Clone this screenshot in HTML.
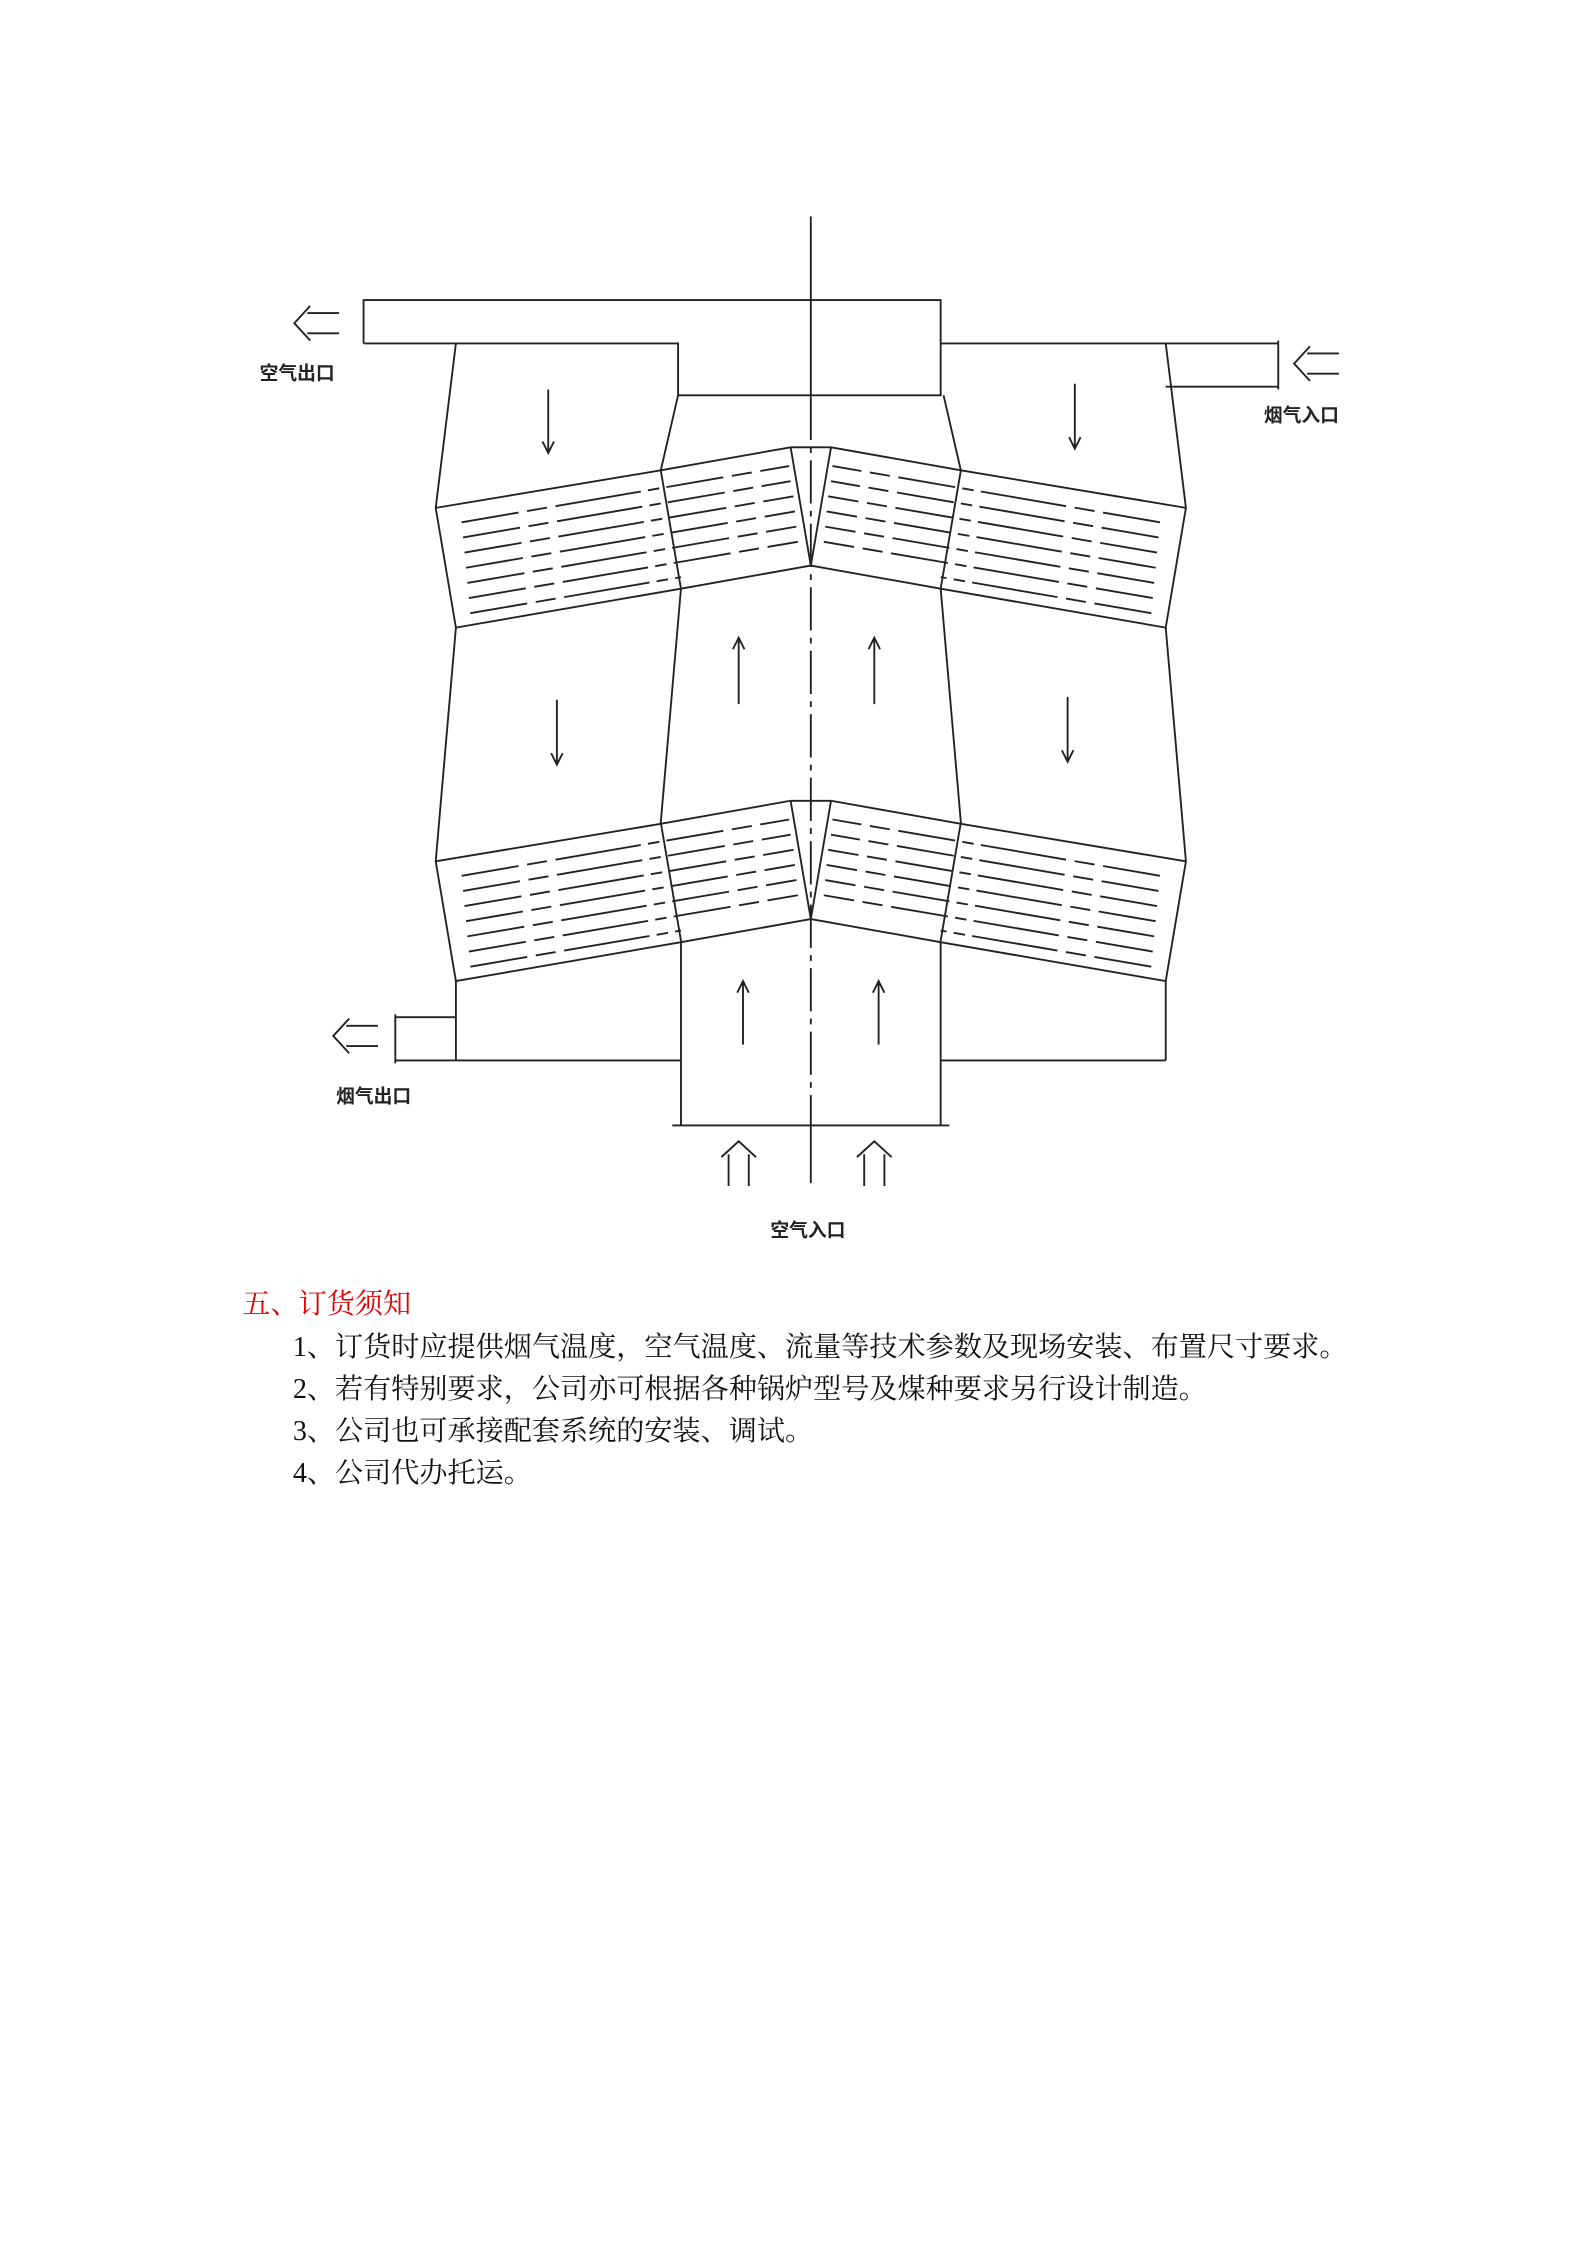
<!DOCTYPE html>
<html><head><meta charset="utf-8"><style>
html,body{margin:0;padding:0;background:#fff;}
svg{display:block;}
</style></head><body>
<svg width="1587" height="2245" viewBox="0 0 1100 1556" preserveAspectRatio="none" xmlns="http://www.w3.org/2000/svg">
<defs>
<g id="bank">
  <polyline points="302,352 458,326 548,310" fill="none" stroke="#222" stroke-width="1.3"/>
  <polyline points="316,435 472,408 562,392" fill="none" stroke="#222" stroke-width="1.3"/>
  <line x1="548" y1="310" x2="562" y2="392" stroke="#222" stroke-width="1.3"/>
  <g stroke="#222" stroke-width="1.3" stroke-dasharray="40 6 14 6 60 5 8 5">
    <line x1="320" y1="362" x2="547" y2="323"/>
    <line x1="321" y1="372.5" x2="548" y2="333.5"/>
    <line x1="322" y1="383" x2="550" y2="344"/>
    <line x1="323" y1="393.5" x2="551" y2="354.5"/>
    <line x1="324" y1="404" x2="552" y2="365"/>
    <line x1="325" y1="414.5" x2="553" y2="375.5"/>
    <line x1="326" y1="425" x2="472" y2="400"/>
  </g>
</g>
<g id="half">
  <use href="#bank"/>
  <use href="#bank" transform="translate(0,245)"/>
  <polyline points="316,238 302,352 316,435 302,597 316,680 316,735" fill="none" stroke="#222" stroke-width="1.3"/>
  <polyline points="470,274 458,326 472,408 458,570 472,652 472,780" fill="none" stroke="#222" stroke-width="1.3"/>
</g>
</defs>
<rect width="1100" height="1556" fill="#fff"/>
<use href="#half"/>
<use href="#half" transform="translate(1124,0) scale(-1,1)"/>
<g fill="none" stroke="#222" stroke-width="1.3">
  <line x1="548" y1="310" x2="576" y2="310"/>
  <line x1="548" y1="555" x2="576" y2="555"/>
  <polyline points="252,238 252,208 652,208 652,274 470,274 470,238 252,238"/>
  <polyline points="652,238 886,238"/>
  <polyline points="808,268 886,268"/>
  <line x1="886" y1="236" x2="886" y2="270"/>
  <line x1="316" y1="735" x2="472" y2="735"/>
  <line x1="652" y1="735" x2="808" y2="735"/>
  <line x1="466" y1="780" x2="658" y2="780"/>
  <polyline points="316,705 274,705"/>
  <line x1="274" y1="703" x2="274" y2="737"/>
  <line x1="274" y1="735" x2="316" y2="735"/>
  <line x1="562" y1="150" x2="562" y2="275"/>
  <line x1="562" y1="275" x2="562" y2="780" stroke-dasharray="30 5 4 5"/>
  <line x1="562" y1="780" x2="562" y2="820"/>
  <path d="M380,270 V314 M376,306 L380,314 L384,306"/>
  <path d="M745,266 V311 M741,303 L745,311 L749,303"/>
  <path d="M386,485 V530 M382,522 L386,530 L390,522"/>
  <path d="M740,483 V528 M736,520 L740,528 L744,520"/>
  <path d="M512,488 V442 M508,450 L512,442 L516,450"/>
  <path d="M606,488 V442 M602,450 L606,442 L610,450"/>
  <path d="M515,724 V680 M511,688 L515,680 L519,688"/>
  <path d="M609,724 V680 M605,688 L609,680 L613,688"/>
  <path d="M235,217 H213 M235,231 H213 M215,212 L204,224 L215,236"/>
  <path d="M928,245 H906 M928,259 H906 M908,240 L897,252 L908,264"/>
  <path d="M262,711 H240 M262,725 H240 M242,706 L231,718 L242,730"/>
  <path d="M505,822 V800 M519,822 V800 M500,802 L512,791 L524,802"/>
  <path d="M599,822 V800 M613,822 V800 M594,802 L606,791 L618,802"/>
</g>
<g font-family="'Liberation Sans','Noto Sans CJK SC',sans-serif" font-size="13" font-weight="bold" fill="#222">
  <text x="180" y="263">空气出口</text>
  <text x="876" y="292">烟气入口</text>
  <text x="233" y="764">烟气出口</text>
  <text x="534" y="857">空气入口</text>
</g>
<g font-family="'Liberation Serif','Noto Serif CJK SC',serif" font-size="19.5">
  <text x="168" y="910" fill="#e00000">五、订货须知</text>
  <g fill="#111">
    <text x="203" y="940">1、订货时应提供烟气温度，空气温度、流量等技术参数及现场安装、布置尺寸要求。</text>
    <text x="203" y="969">2、若有特别要求，公司亦可根据各种锅炉型号及煤种要求另行设计制造。</text>
    <text x="203" y="998">3、公司也可承接配套系统的安装、调试。</text>
    <text x="203" y="1027">4、公司代办托运。</text>
  </g>
</g>
</svg>
</body></html>
